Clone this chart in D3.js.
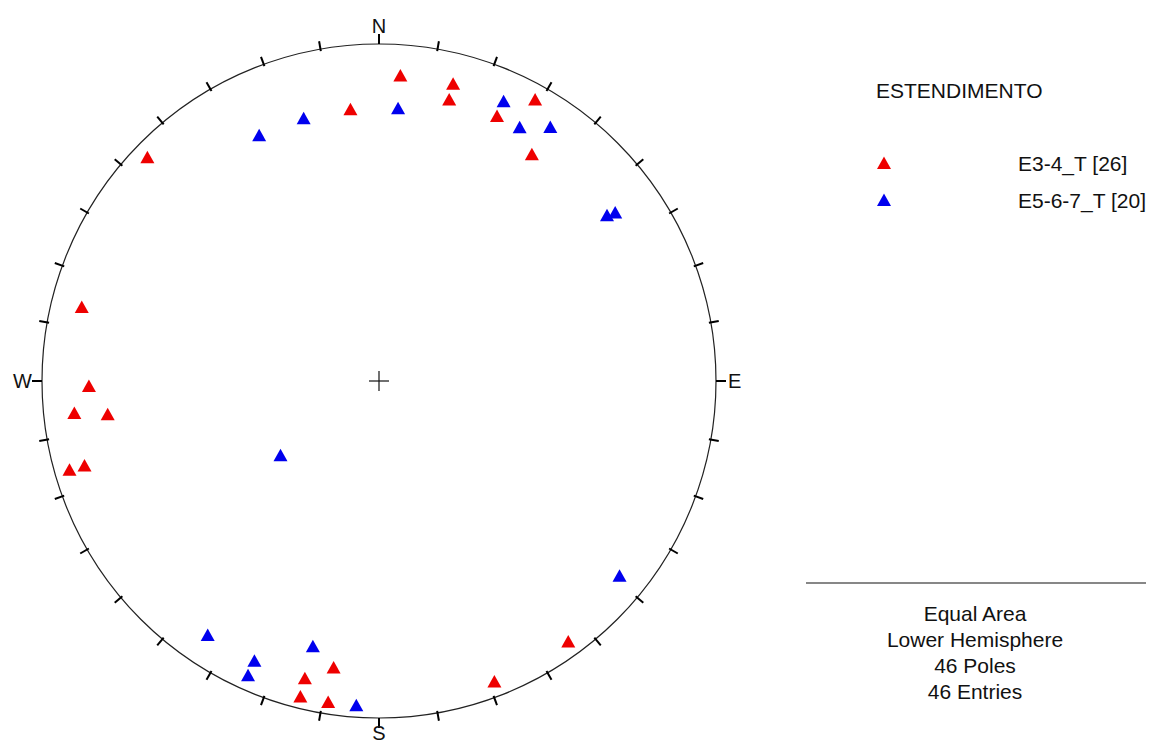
<!DOCTYPE html>
<html>
<head>
<meta charset="utf-8">
<script src="https://cdn.jsdelivr.net/npm/d3@7"></script>
<style>
  html, body { margin: 0; padding: 0; background: #fff; }
  svg { display: block; }
  text { font-family: "Liberation Sans", Arial, sans-serif; fill: #111; }
</style>
</head>
<body>
<svg id="chart" width="1151" height="746"></svg>
<script>
// ---- data (trend / plunge in degrees, lower hemisphere poles) ----
const seriesNames = ["E3-4_T [26]", "E5-6-7_T [20]"];
const seriesColors = ["#ee0000", "#0000ee"];

const redTrend  = [4, 14, 14, 29, 354, 24, 34, 314, 284, 269, 264, 263, 254, 254, 144, 159, 189, 194, 194, 189];
const redPlunge = [10, 10, 15, 5, 20, 15, 20, 5, 10, 15, 10, 20, 5, 10, 5, 5, 15, 10, 4, 4];

const blueTrend  = [334, 344, 4, 24, 29, 34, 54, 54.5, 233, 129, 214, 204, 204, 194, 184];
const bluePlunge = [20, 20, 20, 10, 15, 10, 17.5, 15, 60, 9, 10, 10, 5, 20, 4];

const directionLabels = ["N", "E", "S", "W"];
const tickAngles = d3.range(0, 360, 10);
const infoLines = ["Equal Area", "Lower Hemisphere", "46 Poles", "46 Entries"];
const legendTitle = "ESTENDIMENTO";

// ---- geometry ----
const svg = d3.select("#chart");
const cx = 379, cy = 381, R = 337;

// equal-area: r = R * sqrt(1 - sin(plunge))
const rScale = d3.scaleSqrt().domain([0, 1]).range([0, R]);
const aScale = d3.scaleLinear().domain([0, 360]).range([0, 2 * Math.PI]);
const toRad = d => d * Math.PI / 180;

function project(trend, plunge) {
  const r = rScale(1 - Math.sin(toRad(plunge)));
  const a = aScale(trend);
  return [cx + r * Math.sin(a), cy - r * Math.cos(a)];
}

const g = svg.append("g");

// primitive circle
g.append("circle")
  .attr("cx", cx).attr("cy", cy).attr("r", R)
  .attr("fill", "none").attr("stroke", "#222").attr("stroke-width", 1.2);

// ticks every 10 degrees
g.selectAll("line.tick").data(tickAngles).join("line")
  .attr("class", "tick")
  .attr("x1", d => cx + (d % 90 === 0 ? R : R - 2) * Math.sin(aScale(d)))
  .attr("y1", d => cy - (d % 90 === 0 ? R : R - 2) * Math.cos(aScale(d)))
  .attr("x2", d => cx + (d % 90 === 0 ? R + 10 : R + 8) * Math.sin(aScale(d)))
  .attr("y2", d => cy - (d % 90 === 0 ? R + 10 : R + 8) * Math.cos(aScale(d)))
  .attr("stroke", "#000").attr("stroke-width", 2);

// direction labels
const labelPos = {
  N: {x: cx, y: cy - R - 18, anchor: "middle"},
  E: {x: cx + R + 12, y: cy, anchor: "start"},
  S: {x: cx, y: cy + R + 15, anchor: "middle"},
  W: {x: cx - R - 10, y: cy, anchor: "end"}
};
directionLabels.forEach(l => {
  g.append("text")
    .attr("x", labelPos[l].x).attr("y", labelPos[l].y)
    .attr("text-anchor", labelPos[l].anchor)
    .attr("dominant-baseline", "central")
    .attr("font-size", 20)
    .text(l);
});

// centre cross
g.append("line").attr("x1", cx - 10).attr("x2", cx + 10).attr("y1", cy).attr("y2", cy)
  .attr("stroke", "#111").attr("stroke-width", 1.2);
g.append("line").attr("x1", cx).attr("x2", cx).attr("y1", cy - 10).attr("y2", cy + 10)
  .attr("stroke", "#111").attr("stroke-width", 1.2);

// triangle marker centred on its bounding box
const tri = "M0,-6.5L7,6L-7,6Z";

const series = [
  {trend: redTrend, plunge: redPlunge, color: seriesColors[0]},
  {trend: blueTrend, plunge: bluePlunge, color: seriesColors[1]}
];
series.forEach(s => {
  const pts = s.trend.map((t, i) => project(t, s.plunge[i]));
  g.append("g").selectAll("path").data(pts).join("path")
    .attr("d", tri)
    .attr("transform", d => `translate(${d[0]},${d[1]})`)
    .attr("fill", s.color);
});

// legend
const lg = svg.append("g");
lg.append("text").attr("x", 876).attr("y", 98).attr("font-size", 21).text(legendTitle);
seriesNames.forEach((name, i) => {
  const y = 163 + i * 37;
  lg.append("path").attr("d", tri).attr("transform", `translate(884,${y})`).attr("fill", seriesColors[i]);
  lg.append("text").attr("x", 1018).attr("y", y + 7.5).attr("font-size", 21).text(name);
});

// info box
lg.append("line").attr("x1", 806).attr("x2", 1146).attr("y1", 583).attr("y2", 583)
  .attr("stroke", "#111").attr("stroke-width", 1.2);
infoLines.forEach((t, i) => {
  lg.append("text").attr("x", 975).attr("y", 613 + i * 26.3)
    .attr("text-anchor", "middle").attr("dominant-baseline", "central")
    .attr("font-size", 21).text(t);
});
</script>
</body>
</html>
